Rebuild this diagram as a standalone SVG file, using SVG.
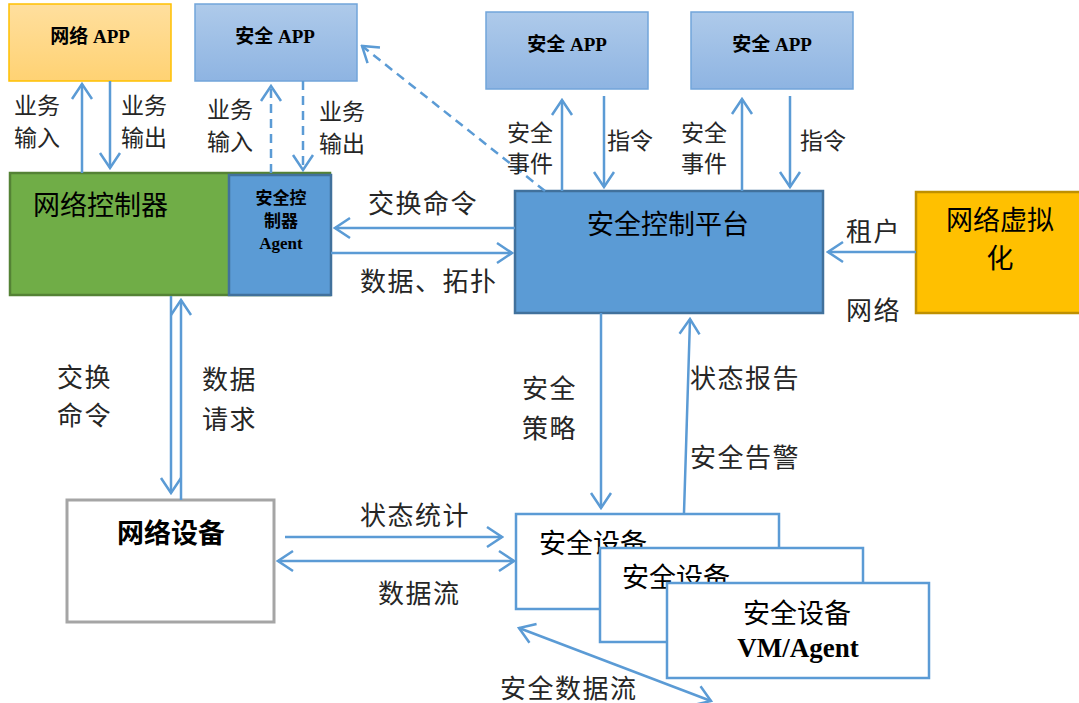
<svg xmlns="http://www.w3.org/2000/svg" width="1079" height="703" viewBox="0 0 1079 703">
<defs>
<linearGradient id="gOrange" x1="0" y1="0" x2="0" y2="1"><stop offset="0" stop-color="#FFDF9E"/><stop offset="1" stop-color="#FFD273"/></linearGradient>
<linearGradient id="gBlue" x1="0" y1="0" x2="0" y2="1"><stop offset="0" stop-color="#AECAEA"/><stop offset="1" stop-color="#8EB4E2"/></linearGradient>
<marker id="ah" viewBox="-18 -12 20 24" refX="0" refY="0" markerWidth="20" markerHeight="24" markerUnits="userSpaceOnUse" orient="auto-start-reverse">
<path d="M-15,-10 L0,0 L-15,10" fill="none" stroke="#5B9BD5" stroke-width="2.5"/>
</marker>
<style>
.c{fill:none;stroke:#5B9BD5;stroke-width:2.5;marker-end:url(#ah)}
.d{stroke-dasharray:9 6}
.b{marker-start:url(#ah)}
.lbl{font-family:"Liberation Serif","Noto Sans CJK SC",serif;font-size:26px;letter-spacing:1.5px;fill:#262626}
.sl{font-family:"Liberation Serif","Noto Sans CJK SC",serif;font-size:23px;fill:#262626}
.nt{font-family:"Liberation Serif","Noto Sans CJK SC",serif;font-size:27px;fill:#000}
.app{font-family:"Liberation Serif","Noto Sans CJK SC",serif;font-size:19px;font-weight:bold;fill:#000;text-anchor:middle}
.bold{font-weight:bold}
.mid{text-anchor:middle}
</style>
</defs>

<g id="netapp">
<rect x="9" y="4" width="162" height="77" fill="url(#gOrange)" stroke="#FFC000" stroke-width="1.5"/>
<text class="app" x="90" y="43">网络 APP</text>
</g>
<g id="secapp1">
<rect x="195" y="4" width="162" height="77" fill="url(#gBlue)" stroke="#72A5DA" stroke-width="1.5"/>
<text class="app" x="275" y="43">安全 APP</text>
</g>
<g id="secapp2">
<rect x="486" y="12" width="162" height="77" fill="url(#gBlue)" stroke="#72A5DA" stroke-width="1.5"/>
<text class="app" x="567" y="51">安全 APP</text>
</g>
<g id="secapp3">
<rect x="691" y="12" width="162" height="77" fill="url(#gBlue)" stroke="#72A5DA" stroke-width="1.5"/>
<text class="app" x="772" y="51">安全 APP</text>
</g>

<g id="netctrl">
<rect x="10" y="173" width="320" height="122" fill="#70AD47" stroke="#548235" stroke-width="2.5"/>
<text class="nt" x="33" y="215">网络控制器</text>
</g>
<g id="agent">
<rect x="229" y="175" width="102" height="120" fill="#5B9BD5" stroke="#41719C" stroke-width="2.5"/>
<text class="app" x="281" y="204" style="font-size:17px">安全控</text>
<text class="app" x="281" y="227" style="font-size:17px">制器</text>
<text class="app" x="281" y="249" style="font-size:17px">Agent</text>
</g>
<g id="secplatform">
<rect x="515" y="191" width="308" height="122" fill="#5B9BD5" stroke="#41719C" stroke-width="2.5"/>
<text class="nt mid" x="668" y="234">安全控制平台</text>
</g>
<g id="netvirt">
<rect x="916" y="192" width="165" height="121" fill="#FFC000" stroke="#BF9000" stroke-width="2.5"/>
<text class="nt mid" x="1000" y="230">网络虚拟</text>
<text class="nt mid" x="1000" y="268">化</text>
</g>
<g id="netdev">
<rect x="67" y="500" width="207" height="122" fill="#FFFFFF" stroke="#A5A5A5" stroke-width="3"/>
<text class="nt mid bold" x="171" y="543">网络设备</text>
</g>
<g id="secdev1">
<rect x="516" y="514" width="263" height="95" fill="#FFFFFF" stroke="#5B9BD5" stroke-width="2.5"/>
<text class="nt" x="539" y="553">安全设备</text>
</g>
<g id="secdev2">
<rect x="600" y="548" width="263" height="94" fill="#FFFFFF" stroke="#5B9BD5" stroke-width="2.5"/>
<text class="nt" x="622" y="587">安全设备</text>
</g>
<g id="secdev3">
<rect x="667" y="583" width="262" height="95" fill="#FFFFFF" stroke="#5B9BD5" stroke-width="2.5"/>
<text class="nt mid" x="797" y="623">安全设备</text>
<text class="nt mid bold" x="798" y="657">VM/Agent</text>
</g>

<g id="connectors">
<path class="c" d="M82,173 L82,84"/>
<path class="c" d="M110,81 L110,168"/>
<path class="c d" d="M271,173 L271,86"/>
<path class="c d" d="M303,81 L303,170"/>
<path class="c d" d="M545,191 L362,46"/>
<path class="c" d="M562,191 L562,100"/>
<path class="c" d="M604,96 L604,187"/>
<path class="c" d="M742,191 L742,99"/>
<path class="c" d="M790,96 L790,187"/>
<path class="c" d="M515,228 L335,228"/>
<path class="c" d="M331,253 L512,253"/>
<path class="c" d="M916,252 L828,252"/>
<path class="c" d="M171,296 L171,493"/>
<path class="c" d="M181,500 L181,300"/>
<path class="c" d="M601,313 L601,508"/>
<path class="c" d="M684,513 L690,319"/>
<path class="c" d="M285,537 L502,537"/>
<path class="c b" d="M278,561 L514,561"/>
<path class="c b" d="M519,628 L711,701"/>
</g>

<g id="labels">
<text class="sl" x="14" y="114">业务</text>
<text class="sl" x="14" y="146">输入</text>
<text class="sl" x="121" y="114">业务</text>
<text class="sl" x="121" y="146">输出</text>
<text class="sl" x="207" y="118">业务</text>
<text class="sl" x="207" y="150">输入</text>
<text class="sl" x="319" y="120">业务</text>
<text class="sl" x="319" y="152">输出</text>
<text class="sl" x="507" y="141">安全</text>
<text class="sl" x="507" y="172">事件</text>
<text class="sl" x="607" y="149">指令</text>
<text class="sl" x="681" y="141">安全</text>
<text class="sl" x="681" y="172">事件</text>
<text class="sl" x="800" y="149">指令</text>
<text class="lbl" x="368" y="213">交换命令</text>
<text class="lbl" x="360" y="291">数据、拓扑</text>
<text class="lbl" x="846" y="241">租户</text>
<text class="lbl" x="846" y="320">网络</text>
<text class="lbl" x="57" y="387">交换</text>
<text class="lbl" x="57" y="425">命令</text>
<text class="lbl" x="202" y="389">数据</text>
<text class="lbl" x="202" y="429">请求</text>
<text class="lbl" x="522" y="398">安全</text>
<text class="lbl" x="522" y="438">策略</text>
<text class="lbl" x="690" y="388">状态报告</text>
<text class="lbl" x="690" y="467">安全告警</text>
<text class="lbl" x="360" y="525">状态统计</text>
<text class="lbl" x="378" y="603">数据流</text>
<text class="lbl" x="500" y="698">安全数据流</text>
</g>
</svg>
